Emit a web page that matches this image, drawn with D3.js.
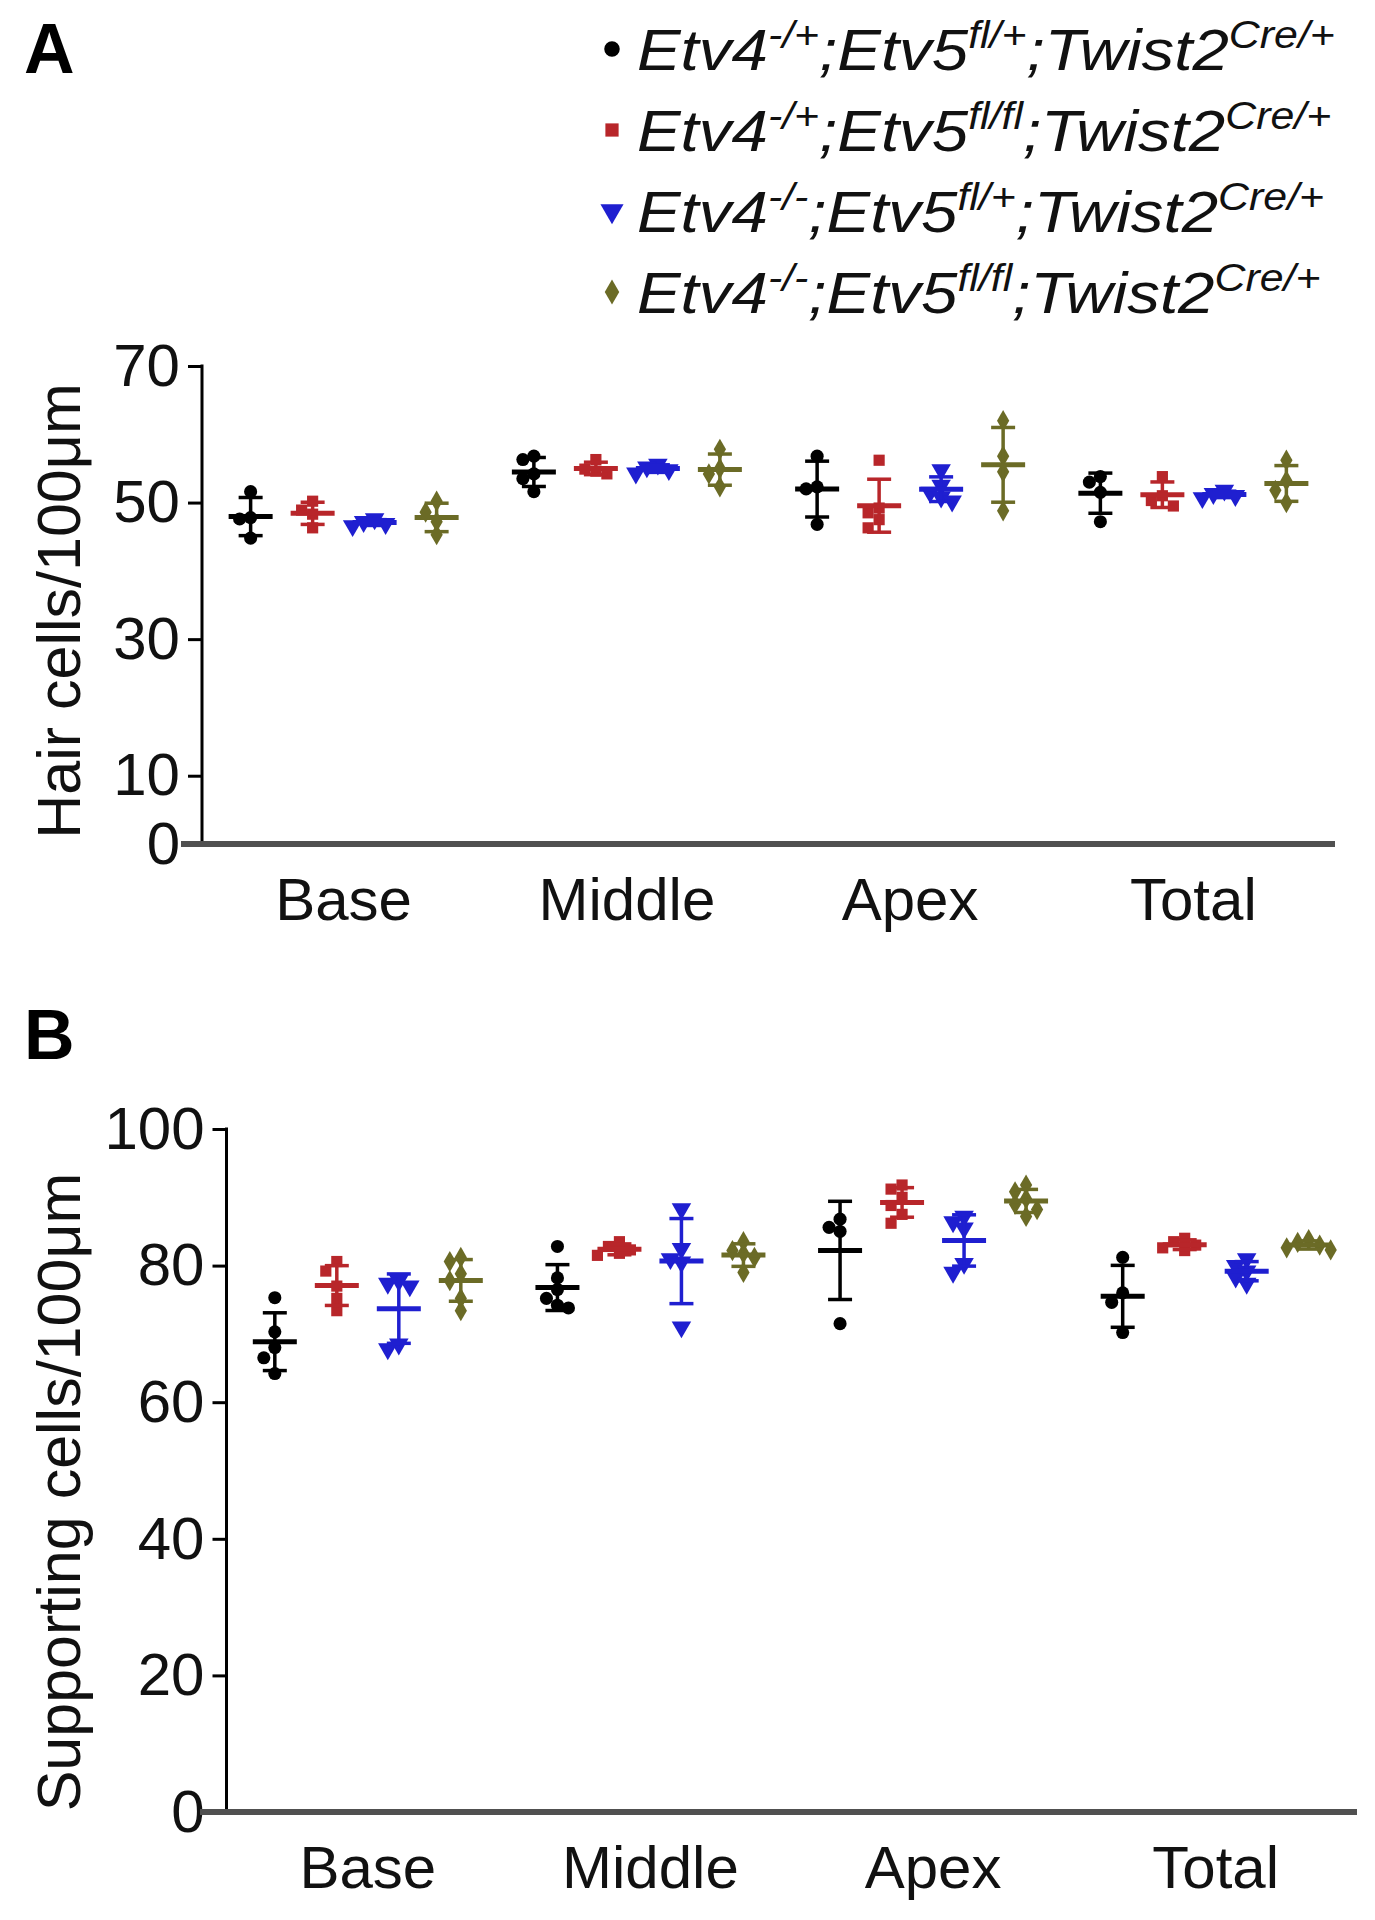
<!DOCTYPE html>
<html>
<head>
<meta charset="utf-8">
<script src="https://cdn.jsdelivr.net/npm/d3@7"></script>
<style>
  html, body { margin: 0; padding: 0; background: #fff; }
  svg { display: block; font-family: "Liberation Sans", Arial, Helvetica, sans-serif; }
</style>
</head>
<body>
<svg id="chart" width="1375" height="1920"></svg>
<script>
// ---------------- DATA ----------------
const categories = ["Base", "Middle", "Apex", "Total"];

const etv4Sup = ["-/+", "-/+", "-/-", "-/-"];
const etv5Sup = ["fl/+", "fl/fl", "fl/+", "fl/fl"];
const twistSup = ["Cre/+", "Cre/+", "Cre/+", "Cre/+"];

// Panel A: Hair cells / 100 µm  (one array of individual animals per category)
const hairG1 = [[51.6, 47.8, 47.6, 44.8], [56.8, 56.3, 54.2, 53.5, 51.6], [56.8, 52.3, 52.0, 46.8], [53.8, 53.0, 51.5, 47.2]];
const hairG2 = [[50.2, 48.9, 48.3, 46.3], [56.3, 54.9, 54.6, 54.2], [56.2, 49.2, 48.5, 47.5, 46.3], [53.8, 51.0, 50.3, 49.5]];
const hairG3 = [[47.6, 47.2, 46.9, 46.6], [55.6, 55.2, 54.8, 54.3], [54.8, 52.5, 51.5, 50.8, 50.2], [51.8, 51.3, 51.0, 50.7]];
const hairG4 = [[50.2, 48.6, 47.2, 45.3], [57.8, 55.0, 54.2, 52.3], [62.0, 56.8, 54.5, 48.8], [56.2, 53.2, 51.8, 50.0]];
const hairTicks = [0, 10, 30, 50, 70];

// Panel B: Supporting cells / 100 µm
const suppG1 = [[75.3, 70.3, 68.0, 66.5, 64.2], [82.8, 78.2, 76.5, 75.2, 74.2, 73.8], [86.8, 85.6, 85.0, 71.5], [81.2, 76.0, 74.6, 70.2]];
const suppG2 = [[80.6, 79.2, 77.0, 75.2, 73.4], [83.5, 82.8, 82.3, 81.8, 81.5], [91.8, 91.2, 90.0, 88.8, 87.5, 86.2], [84.0, 83.5, 83.0, 82.6, 82.2]];
const suppG3 = [[77.8, 77.4, 77.0, 68.5, 67.8], [88.3, 82.5, 81.0, 80.5, 71.0], [87.2, 86.4, 85.5, 80.3, 79.0], [81.0, 80.0, 79.2, 78.3, 77.4]];
const suppG4 = [[81.2, 80.6, 78.8, 77.8, 75.2, 73.4], [83.5, 82.2, 81.8, 81.2, 79.0], [91.8, 90.8, 89.8, 89.0, 88.2, 87.2], [83.8, 83.4, 83.0, 82.6, 82.3]];
const suppTicks = [0, 20, 40, 60, 80, 100];

// ---------------- STYLE ----------------
const colors = ["#000000", "#b8262a", "#1f1fd0", "#6b6b26"];
const triDown = {
  draw(ctx, size) {
    const s = Math.sqrt(size * 4 / Math.sqrt(3));
    const h = s * Math.sqrt(3) / 2;
    ctx.moveTo(-s / 2, -h / 3);
    ctx.lineTo(s / 2, -h / 3);
    ctx.lineTo(0, 2 * h / 3);
    ctx.closePath();
  }
};
const symbols = [d3.symbolCircle, d3.symbolSquare, triDown, d3.symbolDiamond];
const symSizes = [135, 125, 165, 130];

const svg = d3.select("#chart");
svg.append("rect").attr("width", 1375).attr("height", 1920).attr("fill", "#fff");

function drawPanel(cfg) {
  const g = svg.append("g");
  const x = d3.scaleBand().domain(categories).range([cfg.x0, cfg.x1]);
  const y = d3.scaleLinear().domain([0, cfg.max]).range([cfg.yBot, cfg.yTop]);
  const step = 62;

  // y axis
  const yAxis = g.append("g").attr("transform", `translate(${cfg.x0},0)`)
    .call(d3.axisLeft(y).tickValues(cfg.ticks).tickSize(14).tickPadding(8).tickSizeOuter(0));
  yAxis.select(".domain").remove();
  yAxis.selectAll(".tick line").attr("stroke", "#000").attr("stroke-width", 3);
  yAxis.selectAll(".tick text").attr("font-size", 60).attr("fill", "#111")
    .attr("font-family", "Liberation Sans, Arial, sans-serif");
  g.append("line").attr("x1", cfg.x0).attr("x2", cfg.x0)
    .attr("y1", y(cfg.max) - 1.5).attr("y2", cfg.yBot)
    .attr("stroke", "#000").attr("stroke-width", 3);

  // x axis (thick gray baseline)
  g.append("line").attr("x1", cfg.axisStart).attr("x2", cfg.x1)
    .attr("y1", cfg.yBot).attr("y2", cfg.yBot)
    .attr("stroke", "#505050").attr("stroke-width", 6);
  g.selectAll("text.cat").data(categories).join("text")
    .attr("class", "cat")
    .attr("x", d => x(d) + x.bandwidth() / 2)
    .attr("y", cfg.yBot + 76)
    .attr("text-anchor", "middle")
    .attr("font-size", 60).attr("fill", "#111")
    .text(d => d);

  // y title
  g.append("text")
    .attr("transform", `translate(80,${cfg.titleY}) rotate(-90)`)
    .attr("text-anchor", "middle")
    .attr("font-size", 61).attr("fill", "#111")
    .text(cfg.title);

  // panel letter
  g.append("text").attr("x", 24).attr("y", cfg.letterY)
    .attr("font-size", 70).attr("font-weight", "bold").attr("fill", "#000")
    .text(cfg.letter);

  // data
  cfg.series.forEach((ser, si) => {
    const col = colors[si];
    const sym = d3.symbol().type(symbols[si]).size(symSizes[si]);
    ser.forEach((vals, ci) => {
      const cx = x(categories[ci]) + x.bandwidth() / 2 + (si - 1.5) * step;
      // simple collision spreading of points
      const placed = [];
      const sorted = vals.slice().sort((a, b) => b - a);
      sorted.forEach(v => {
        const py = y(v);
        const cands = [0, -11, 11, -22, 22, -33, 33];
        let off = 0;
        for (const c of cands) {
          if (placed.every(p => Math.hypot(p.dx - c, p.py - py) >= 11)) { off = c; break; }
        }
        placed.push({ dx: off, py: py });
      });
      g.selectAll(null).data(placed).join("path")
        .attr("d", sym)
        .attr("transform", p => `translate(${cx + p.dx},${p.py})`)
        .attr("fill", col);
      const m = d3.mean(vals), sd = d3.deviation(vals);
      const eg = g.append("g").attr("stroke", col).attr("fill", "none");
      eg.append("line").attr("x1", cx).attr("x2", cx)
        .attr("y1", y(m + sd)).attr("y2", y(m - sd)).attr("stroke-width", 3.5);
      [m + sd, m - sd].forEach(v => {
        eg.append("line").attr("x1", cx - 12).attr("x2", cx + 12)
          .attr("y1", y(v)).attr("y2", y(v)).attr("stroke-width", 3.5);
      });
      eg.append("line").attr("x1", cx - 22).attr("x2", cx + 22)
        .attr("y1", y(m)).attr("y2", y(m)).attr("stroke-width", 5);
    });
  });
}

drawPanel({
  letter: "A", letterY: 73,
  x0: 202, x1: 1335, axisStart: 181, yTop: 366, yBot: 844, max: 70,
  ticks: hairTicks, title: "Hair cells/100μm", titleY: 611,
  series: [hairG1, hairG2, hairG3, hairG4]
});
drawPanel({
  letter: "B", letterY: 1059,
  x0: 226.5, x1: 1357, axisStart: 200, yTop: 1129, yBot: 1812, max: 100,
  ticks: suppTicks, title: "Supporting cells/100μm", titleY: 1492,
  series: [suppG1, suppG2, suppG3, suppG4]
});

// ---------------- LEGEND ----------------
const legend = svg.append("g");
const legX = 637, rowBase = [70, 151, 232, 313];
const fs = 58, sfs = 38, up = 22;
const rows = [];
etv4Sup.forEach((s4, i) => {
  const t = legend.append("text")
    .attr("x", legX).attr("y", rowBase[i])
    .attr("font-size", fs).attr("font-style", "italic").attr("fill", "#111");
  t.append("tspan").text("Etv4");
  t.append("tspan").attr("dy", -up).attr("font-size", sfs).text(s4);
  t.append("tspan").attr("dy", up).text(";Etv5");
  t.append("tspan").attr("dy", -up).attr("font-size", sfs).text(etv5Sup[i]);
  t.append("tspan").attr("dy", up).text(";Twist2");
  t.append("tspan").attr("dy", -up).attr("font-size", sfs).text(twistSup[i]);
  rows.push(t);
  legend.append("path")
    .attr("d", d3.symbol().type(symbols[i]).size(symSizes[i] * 1.4)())
    .attr("transform", `translate(612,${rowBase[i] - 21})`)
    .attr("fill", colors[i]);
});
const w0 = rows[0].node().getBBox().width;
const sx = 698 / w0;
rows.forEach(t => t.attr("transform", `translate(${legX},0) scale(${sx},1) translate(${-legX},0)`));
</script>
</body>
</html>
